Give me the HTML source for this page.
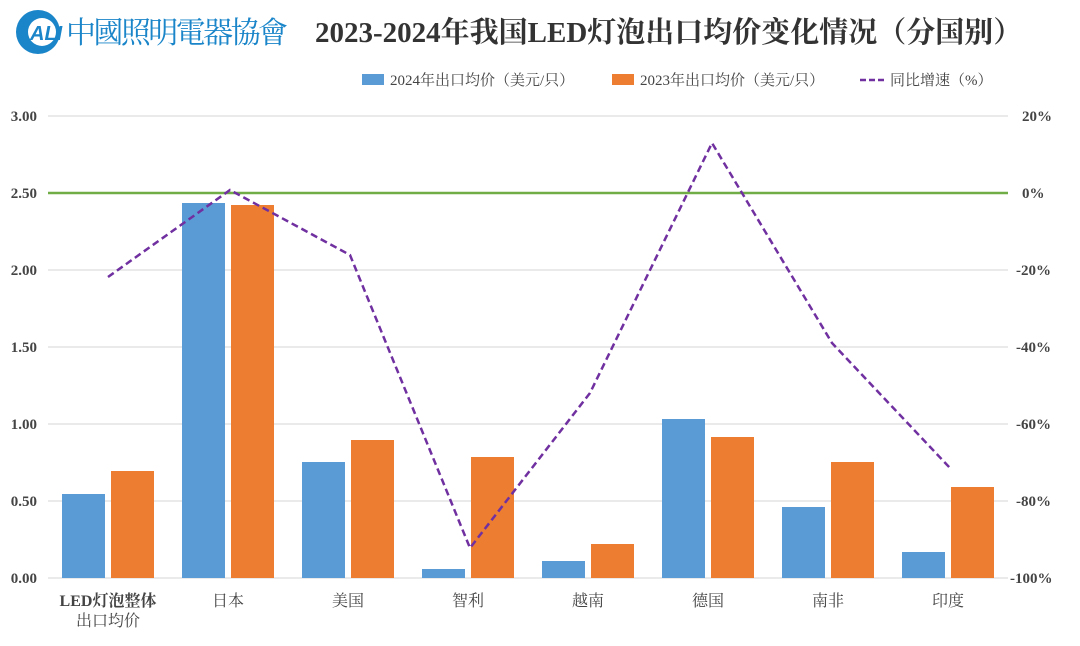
<!DOCTYPE html>
<html><head><meta charset="utf-8"><style>
body{margin:0;background:#fff;}
svg text{font-family:"Liberation Serif","Noto Serif CJK SC",serif;}
</style></head><body>
<svg width="1080" height="641" xmlns="http://www.w3.org/2000/svg">
<rect width="1080" height="641" fill="#fff"/>
<!-- logo -->
<circle cx="38" cy="32" r="22" fill="#1a85c9"/>
<circle cx="42" cy="32" r="14" fill="#fff"/>
<text x="30" y="40" font-family="Liberation Sans,sans-serif" font-style="italic" font-weight="bold" font-size="20" fill="#1a85c9" style="font-family:'Liberation Sans',sans-serif">ALI</text>
<text x="66" y="43" font-size="30" fill="#1a85c9" style="font-family:'Noto Serif CJK SC',serif" textLength="222">中國照明電器協會</text>
<text x="315" y="42" font-size="29" font-weight="bold" fill="#333">2023-2024年我国LED灯泡出口均价变化情况（分国别）</text>
<!-- legend -->
<rect x="362" y="74" width="22" height="11" fill="#5b9bd5"/>
<text x="390" y="85" font-size="15" fill="#444">2024年出口均价（美元/只）</text>
<rect x="612" y="74" width="22" height="11" fill="#ed7d31"/>
<text x="640" y="85" font-size="15" fill="#444">2023年出口均价（美元/只）</text>
<line x1="860" y1="80" x2="884" y2="80" stroke="#7030a0" stroke-width="2.5" stroke-dasharray="6,3"/>
<text x="890" y="85" font-size="15" fill="#444">同比增速（%）</text>
<!-- grid -->
<g stroke="#e3e3e3" stroke-width="1.5">
<line x1="48" y1="116" x2="1008" y2="116"/><line x1="48" y1="270" x2="1008" y2="270"/>
<line x1="48" y1="347" x2="1008" y2="347"/><line x1="48" y1="424" x2="1008" y2="424"/>
<line x1="48" y1="501" x2="1008" y2="501"/><line x1="48" y1="578" x2="1008" y2="578"/>
</g>
<g font-size="15" font-weight="bold" fill="#444" text-anchor="end">
<text x="37" y="121">3.00</text><text x="37" y="198">2.50</text><text x="37" y="275">2.00</text>
<text x="37" y="352">1.50</text><text x="37" y="429">1.00</text><text x="37" y="506">0.50</text><text x="37" y="583">0.00</text>
</g>
<g font-size="15" font-weight="bold" fill="#444">
<text x="1022" y="121">20%</text><text x="1022" y="198">0%</text><text x="1016" y="275">-20%</text>
<text x="1016" y="352">-40%</text><text x="1016" y="429">-60%</text><text x="1016" y="506">-80%</text><text x="1010" y="583">-100%</text>
</g>
<!-- bars -->
<g fill="#5b9bd5">
<rect x="62" y="494" width="43" height="84"/>
<rect x="182" y="203" width="43" height="375"/>
<rect x="302" y="462" width="43" height="116"/>
<rect x="422" y="569" width="43" height="9"/>
<rect x="542" y="561" width="43" height="17"/>
<rect x="662" y="419" width="43" height="159"/>
<rect x="782" y="507" width="43" height="71"/>
<rect x="902" y="552" width="43" height="26"/>
</g>
<g fill="#ed7d31">
<rect x="111" y="471" width="43" height="107"/>
<rect x="231" y="205" width="43" height="373"/>
<rect x="351" y="440" width="43" height="138"/>
<rect x="471" y="457" width="43" height="121"/>
<rect x="591" y="544" width="43" height="34"/>
<rect x="711" y="437" width="43" height="141"/>
<rect x="831" y="462" width="43" height="116"/>
<rect x="951" y="487" width="43" height="91"/>
</g>
<line x1="48" y1="193" x2="1008" y2="193" stroke="#70ad47" stroke-width="2.5"/>
<polyline points="108,277 230,190 350,255 470,548 590,393 712,143 832,343 950,468" fill="none" stroke="#7030a0" stroke-width="2.5" stroke-dasharray="7,4"/>
<!-- x labels -->
<g font-size="16" fill="#444" text-anchor="middle">
<text x="108" y="606" font-weight="bold">LED灯泡整体</text>
<text x="108" y="626">出口均价</text>
<text x="228" y="606">日本</text><text x="348" y="606">美国</text><text x="468" y="606">智利</text>
<text x="588" y="606">越南</text><text x="708" y="606">德国</text><text x="828" y="606">南非</text><text x="948" y="606">印度</text>
</g>
</svg>
</body></html>
